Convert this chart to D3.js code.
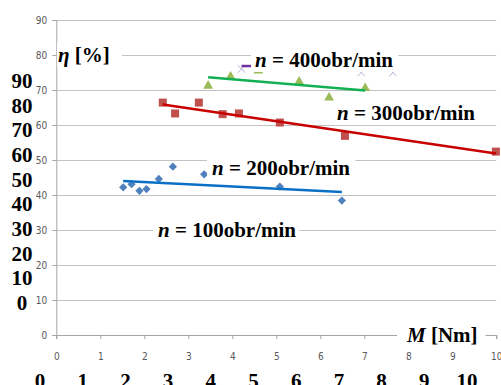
<!DOCTYPE html>
<html>
<head>
<meta charset="utf-8">
<script src="https://cdn.jsdelivr.net/npm/d3@7"></script>
<style>
  body { margin: 0; background: #fff; }
  svg { display: block; }
</style>
</head>
<body>
<svg id="chart" width="501" height="385"></svg>
<script>
// measured points, M [Nm] vs eta [%]
const blueM   = [1.52, 1.71, 1.89, 2.05, 2.33, 2.65, 3.36, 5.08, 6.49];
const blueEta = [42.2, 43.1, 41.2, 41.7, 44.6, 48.1, 45.9, 42.4, 38.4];
const redM    = [2.42, 2.70, 3.24, 3.78, 4.15, 5.08, 6.56, 9.99];
const redEta  = [66.4, 63.3, 66.4, 63.1, 63.3, 60.7, 56.9, 52.4];
const greenM  = [3.45, 3.96, 4.59, 5.52, 6.20, 7.02];
const greenEta= [71.2, 73.8, 75.5, 72.4, 67.8, 70.5];
const purpleM = [4.21, 5.00, 6.93, 7.30, 7.65];
const purpleEta=[76.0, 78.0, 75.0, 79.5, 75.0];

const yTicks = [0, 10, 20, 30, 40, 50, 60, 70, 80, 90];
const xTicks = [0, 1, 2, 3, 4, 5, 6, 7, 8, 9, 10];
const bigYLabels = [0, 10, 20, 30, 40, 50, 60, 70, 80, 90];
const bigXLabels = [0, 1, 2, 3, 4, 5, 6, 7, 8, 9, 10];

const svg = d3.select('#chart');
const x = d3.scaleLinear().domain([0, 10]).range([56.3, 496.3]);
const y = d3.scaleLinear().domain([0, 90]).range([335, 20]);
const plotW = x(10) - x(0);

/* gridlines */
svg.append('g')
  .attr('transform', 'translate(' + x(0) + ',0)')
  .call(d3.axisRight(y).tickValues(yTicks.slice(1)).tickSize(plotW).tickFormat(''))
  .call(g => g.select('.domain').remove())
  .selectAll('line').attr('stroke', '#c3c3c3');

/* y axis */
const yAxis = svg.append('g')
  .attr('transform', 'translate(' + x(0) + ',0)')
  .call(d3.axisLeft(y).tickValues(yTicks).tickSize(4).tickPadding(5));
yAxis.select('.domain').attr('stroke', '#a6a6a6');
yAxis.selectAll('line').attr('stroke', '#a6a6a6');
yAxis.selectAll('text')
  .attr('fill', '#595959')
  .style('font', '10px "Liberation Sans Narrow", "DejaVu Sans Condensed", sans-serif');

/* x axis */
const xAxis = svg.append('g')
  .attr('transform', 'translate(0,' + y(0) + ')')
  .call(d3.axisBottom(x).tickValues(xTicks).tickSize(4).tickPadding(14));
xAxis.select('.domain').attr('stroke', '#a6a6a6');
xAxis.selectAll('line').attr('stroke', '#a6a6a6');
xAxis.selectAll('text')
  .attr('fill', '#595959')
  .style('font', '10px "Liberation Sans Narrow", "DejaVu Sans Condensed", sans-serif');

/* trend lines (least squares) */
function fit(xs, ys) {
  const mx = d3.mean(xs), my = d3.mean(ys);
  let sxy = 0, sxx = 0;
  xs.forEach((v, i) => { sxy += (v - mx) * (ys[i] - my); sxx += (v - mx) * (v - mx); });
  const b = sxy / sxx;
  const x0 = d3.min(xs), x1 = d3.max(xs);
  return [[x0, my + b * (x0 - mx)], [x1, my + b * (x1 - mx)]];
}

const series = [
  { m: blueM, eta: blueEta, fill: '#4f81bd', line: '#0a70c6', shape: 'diamond' },
  { m: redM, eta: redEta, fill: '#c0504d', line: '#c80000', shape: 'square' },
  { m: greenM, eta: greenEta, fill: '#9bbb59', line: '#12b050', shape: 'triangle' },
  { m: purpleM, eta: purpleEta, fill: '#b8a8d0', line: '#7030a0', shape: 'x' }
];

const line = d3.line().x(d => x(d[0])).y(d => y(d[1]));

series.forEach(s => {
  const pts = s.m.map((v, i) => [v, s.eta[i]]);
  const g = svg.append('g');
  let sym;
  if (s.shape === 'diamond') sym = d3.symbol(d3.symbolSquare, 34);
  else if (s.shape === 'square') sym = d3.symbol(d3.symbolSquare, 64);
  else if (s.shape === 'triangle') sym = d3.symbol(d3.symbolTriangle, 42);
  else sym = d3.symbol(d3.symbolX, 36);

  g.selectAll('path')
    .data(pts)
    .enter().append('path')
    .attr('d', sym)
    .attr('transform', d => 'translate(' + x(d[0]) + ',' + y(d[1]) + ')' + (s.shape === 'diamond' ? ' rotate(45)' : ''))
    .attr('fill', s.shape === 'x' ? 'none' : s.fill)
    .attr('stroke', s.shape === 'x' ? s.fill : 'none')
    .attr('stroke-width', 1);

  svg.append('path')
    .datum(fit(s.m, s.eta))
    .attr('fill', 'none')
    .attr('stroke', s.line)
    .attr('stroke-width', 2.5)
    .attr('d', line);
});

/* boxed labels over the plot */
const serif = '"Liberation Serif", "Times New Roman", serif';
function boxedLabel(parts, lx, base, padL, padR) {
  const g = svg.append('g');
  const rect = g.append('rect').attr('fill', '#fff');
  const t = g.append('text')
    .attr('x', lx).attr('y', base)
    .style('font-family', serif)
    .style('font-size', '21px')
    .style('font-weight', 'bold')
    .attr('fill', '#000');
  parts.forEach(p => {
    t.append('tspan').style('font-style', p.italic ? 'italic' : 'normal').text(p.t);
  });
  const bb = t.node().getBBox();
  rect.attr('x', bb.x - padL).attr('y', bb.y)
    .attr('width', bb.width + padL + padR).attr('height', bb.height);
}

boxedLabel([{ t: 'n', italic: true }, { t: ' = 400obr/min' }], 255, 67, 4, 5);
boxedLabel([{ t: 'n', italic: true }, { t: ' = 300obr/min' }], 337, 120, 4, 4);
boxedLabel([{ t: 'n', italic: true }, { t: ' = 200obr/min' }], 212, 175, 5, 5);
boxedLabel([{ t: 'n', italic: true }, { t: ' = 100obr/min' }], 158, 237, 5, 3);
boxedLabel([{ t: 'η', italic: true }, { t: ' [%]' }], 58, 62, 1, 12);
boxedLabel([{ t: 'M', italic: true }, { t: ' [Nm]' }], 407, 342, 9, 8);

/* big value labels */
const bigY = d3.scaleLinear().domain([0, 90]).range([310, 88]);
const bigX = d3.scaleLinear().domain([0, 10]).range([40, 467]);

svg.append('g').selectAll('text')
  .data(bigYLabels)
  .enter().append('text')
  .attr('x', 22)
  .attr('y', d => bigY(d))
  .attr('text-anchor', 'middle')
  .style('font', 'bold 21px ' + serif)
  .text(d => d);

svg.append('g').selectAll('text')
  .data(bigXLabels)
  .enter().append('text')
  .attr('x', d => bigX(d))
  .attr('y', 388)
  .attr('text-anchor', 'middle')
  .style('font', 'bold 21px ' + serif)
  .text(d => d);
</script>
</body>
</html>
